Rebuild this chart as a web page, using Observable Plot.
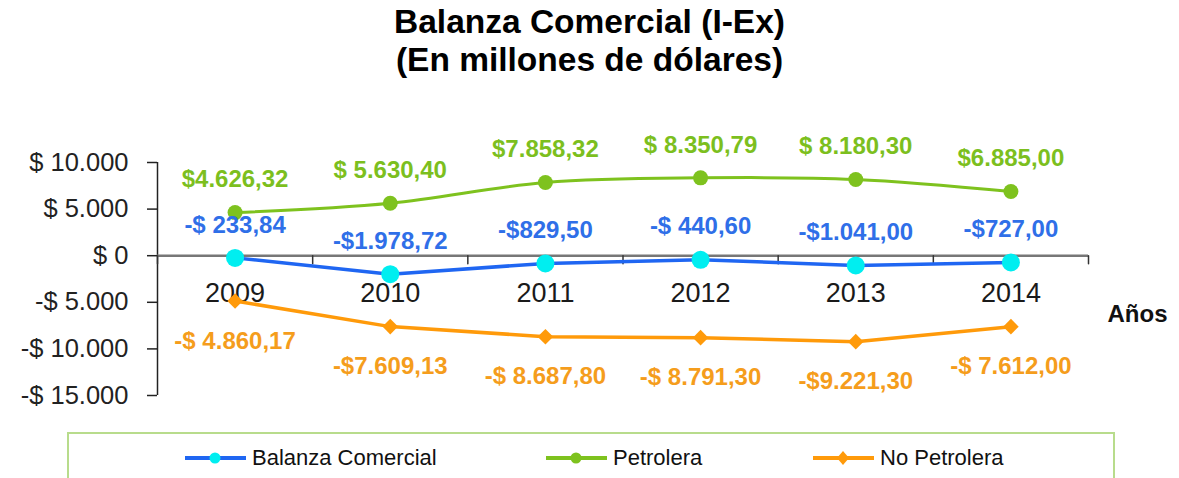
<!DOCTYPE html>
<html>
<head>
<meta charset="utf-8">
<script src="https://cdn.jsdelivr.net/npm/d3@7"></script>
<script src="https://cdn.jsdelivr.net/npm/@observablehq/plot@0.6"></script>
<style>
  body { margin:0; background:#fff; font-family:"Liberation Sans", Arial, sans-serif; width:1179px; height:478px; overflow:hidden; position:relative; }
  #title { position:absolute; left:0; top:3px; width:1179px; text-align:center; font-weight:bold; font-size:33.5px; line-height:38px; color:#000; }
  #chart { position:absolute; left:0; top:88px; }
  #legendBox { position:absolute; left:67px; top:432px; width:1044px; height:70px; border:2px solid #b8dc8c; }
  .item { position:absolute; top:446px; height:24px; display:flex; align-items:center; font-size:22px; color:#111; white-space:nowrap; }
  .item svg { margin-right:6px; }
</style>
</head>
<body>
<div id="title">Balanza Comercial (I-Ex)<br>(En millones de dólares)</div>
<div id="chart"></div>
<div id="legendBox"></div>
<div id="legend"></div>
<script>
const years = [2009, 2010, 2011, 2012, 2013, 2014];
const balanza = [-233.84, -1978.72, -829.50, -440.60, -1041.00, -727.00];
const petrolera = [4626.32, 5630.40, 7858.32, 8350.79, 8180.30, 6885.00];
const noPetrolera = [-4860.17, -7609.13, -8687.80, -8791.30, -9221.30, -7612.00];
const balanzaLabels = ["-$ 233,84", "-$1.978,72", "-$829,50", "-$ 440,60", "-$1.041,00", "-$727,00"];
const petroleraLabels = ["$4.626,32", "$ 5.630,40", "$7.858,32", "$ 8.350,79", "$ 8.180,30", "$6.885,00"];
const noPetroleraLabels = ["-$ 4.860,17", "-$7.609,13", "-$ 8.687,80", "-$ 8.791,30", "-$9.221,30", "-$ 7.612,00"];
const yTicks = [-15000, -10000, -5000, 0, 5000, 10000];
const yTickLabels = ["-$ 15.000", "-$ 10.000", "-$ 5.000", "$ 0", "$ 5.000", "$ 10.000"];
const seriesNames = ["Balanza Comercial", "Petrolera", "No Petrolera"];
const xAxisTitle = "Años";

const BLUE = "#1f66f2", CYAN = "#00eef0", GREEN = "#7ec21e", ORANGE = "#ff9a0a";
const BLUE_T = "#2f6fe8", GREEN_T = "#7cbf1e", ORANGE_T = "#f59d1c";

const rows = (vals, labels) => years.map((year, i) => ({year, value: vals[i], label: labels[i]}));
const bal = rows(balanza, balanzaLabels);
const pet = rows(petrolera, petroleraLabels);
const nop = rows(noPetrolera, noPetroleraLabels);
const bounds = years.map(y => y - 0.5).concat([years[years.length - 1] + 0.5]);

const tickShape = {draw(context, l) { context.moveTo(0, 0); context.lineTo(0, -l); }};

const chart = Plot.plot({
  width: 1179,
  height: 340,
  marginLeft: 157,
  marginRight: 91,
  marginTop: 74,
  marginBottom: 33,
  style: {fontFamily: "'Liberation Sans', Arial, sans-serif", background: "transparent", overflow: "visible"},
  x: {domain: [bounds[0], bounds[bounds.length - 1]], axis: null},
  y: {domain: [yTicks[0], yTicks[yTicks.length - 1]], axis: null},
  marks: [
    Plot.axisY({ticks: yTicks, label: null, tickFormat: d => yTickLabels[yTicks.indexOf(d)], tickSize: 10, tickPadding: 19, fontSize: 25.5, stroke: "#222", fill: "#222", strokeWidth: 1.5}),
    Plot.ruleX([bounds[0]], {y1: yTicks[0], y2: yTicks[yTicks.length - 1], stroke: "#222", strokeWidth: 1.5}),
    Plot.ruleY([0], {x1: bounds[0], x2: bounds[bounds.length - 1], stroke: "#777", strokeWidth: 2.5}),
    Plot.vector(bounds, {x: d => d, y: 0, length: 8, rotate: 180, anchor: "start", shape: tickShape, stroke: "#333", strokeWidth: 1.5}),
    Plot.text(years, {x: d => d, y: 0, dy: 38, text: d => String(d), fontSize: 27, fill: "#1a1a1a"}),
    Plot.line(pet, {x: "year", y: "value", stroke: GREEN, strokeWidth: 3, curve: "catmull-rom"}),
    Plot.line(bal, {x: "year", y: "value", stroke: BLUE, strokeWidth: 3.5}),
    Plot.line(nop, {x: "year", y: "value", stroke: ORANGE, strokeWidth: 3.5}),
    Plot.dot(pet, {x: "year", y: "value", r: 7.5, fill: GREEN}),
    Plot.dot(bal, {x: "year", y: "value", r: 9, fill: CYAN}),
    Plot.dot(nop, {x: "year", y: "value", r: 7, symbol: "diamond2", fill: ORANGE}),
    Plot.text(pet, {x: "year", y: "value", text: "label", dy: -33, fontSize: 24, fontWeight: "bold", fill: GREEN_T}),
    Plot.text(bal, {x: "year", y: "value", text: "label", dy: -33, fontSize: 24, fontWeight: "bold", fill: BLUE_T}),
    Plot.text(nop, {x: "year", y: "value", text: "label", dy: 40, fontSize: 24, fontWeight: "bold", fill: ORANGE_T}),
    Plot.text([xAxisTitle], {frameAnchor: "right", dx: 19, dy: 35, textAnchor: "start", text: d => d, fontSize: 24, fontWeight: "bold", fill: "#111"})
  ]
});
document.getElementById("chart").appendChild(chart);

// Legend
const legendItems = [
  {name: seriesNames[0], line: BLUE, marker: "circle", color: CYAN, left: 185},
  {name: seriesNames[1], line: GREEN, marker: "circle", color: GREEN, left: 546},
  {name: seriesNames[2], line: ORANGE, marker: "diamond", color: ORANGE, left: 813}
];
const legend = document.getElementById("legend");
for (const it of legendItems) {
  const div = document.createElement("div");
  div.className = "item";
  div.style.left = it.left + "px";
  const mk = it.marker === "circle"
    ? `<circle cx="30" cy="12" r="5.5" fill="${it.color}"/>`
    : `<path d="M30 5 L36 12 L30 19 L24 12 Z" fill="${it.color}"/>`;
  div.innerHTML = `<svg width="61" height="24"><line x1="0" y1="12" x2="61" y2="12" stroke="${it.line}" stroke-width="4"/>${mk}</svg><span></span>`;
  div.querySelector("span").textContent = it.name;
  legend.appendChild(div);
}
</script>
</body>
</html>
